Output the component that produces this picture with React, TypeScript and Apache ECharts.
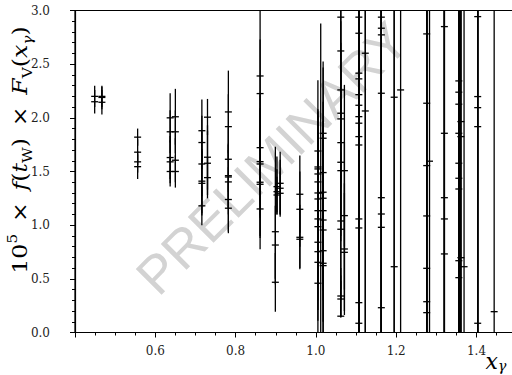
import { useEffect, useRef } from 'react';
import * as echarts from 'echarts';

const X_MIN = 0.4;
const X_MAX = 1.6;
const Y_MIN = 0;
const Y_MAX = 3;

// [x, y, barLow, barHigh]
const pointsBelowOne: number[][] = [
  [0.449, 2.2, 2.1, 2.3],
  [0.449, 2.15, 2.04, 2.26],
  [0.467, 2.2, 2.1, 2.3],
  [0.467, 2.19, 2.08, 2.29],
  [0.467, 2.145, 2.03, 2.26],
  [0.556, 1.82, 1.74, 1.9],
  [0.556, 1.68, 1.56, 1.8],
  [0.556, 1.59, 1.49, 1.69],
  [0.556, 1.545, 1.43, 1.66],
  [0.637, 2.0, 1.77, 2.23],
  [0.637, 1.87, 1.67, 2.07],
  [0.637, 1.63, 1.43, 1.83],
  [0.637, 1.59, 1.39, 1.79],
  [0.637, 1.5, 1.36, 1.64],
  [0.65, 2.01, 1.75, 2.27],
  [0.65, 1.87, 1.67, 2.07],
  [0.65, 1.605, 1.4, 1.81],
  [0.65, 1.5, 1.35, 1.65],
  [0.716, 1.88, 1.59, 2.17],
  [0.716, 1.77, 1.52, 2.02],
  [0.716, 1.57, 1.27, 1.87],
  [0.716, 1.41, 1.11, 1.71],
  [0.716, 1.39, 1.09, 1.69],
  [0.716, 1.18, 1.0, 1.36],
  [0.73, 2.006, 1.84, 2.176],
  [0.73, 1.633, 1.33, 1.93],
  [0.73, 1.577, 1.28, 1.88],
  [0.73, 1.443, 1.25, 1.635],
  [0.782, 2.055, 1.67, 2.44],
  [0.782, 1.918, 1.62, 2.22],
  [0.782, 1.614, 1.31, 1.91],
  [0.782, 1.461, 1.16, 1.76],
  [0.782, 1.449, 1.15, 1.75],
  [0.782, 1.403, 1.1, 1.7],
  [0.782, 1.239, 0.94, 1.54],
  [0.782, 1.158, 0.925, 1.39],
  [0.861, 2.39, 1.69, 3.09],
  [0.861, 2.226, 1.73, 2.73],
  [0.861, 1.722, 1.22, 2.22],
  [0.861, 1.592, 1.09, 2.09],
  [0.861, 1.57, 1.07, 2.07],
  [0.861, 1.4, 0.9, 1.9],
  [0.861, 1.381, 0.88, 1.88],
  [0.861, 1.151, 0.775, 1.53],
  [0.899, 0.939, 0.5, 1.73],
  [0.899, 0.815, 0.45, 1.18],
  [0.899, 0.468, 0.194, 0.74],
  [0.903, 1.359, 1.1, 1.64],
  [0.903, 1.312, 1.1, 1.52],
  [0.903, 1.281, 1.12, 1.45],
  [0.911, 1.39, 1.1, 1.685],
  [0.911, 1.344, 1.079, 1.61],
  [0.911, 1.297, 1.1, 1.5],
  [0.96, 1.288, 0.93, 1.648],
  [0.96, 1.148, 0.8, 1.5],
  [0.96, 0.887, 0.589, 1.19],
  [0.96, 0.869, 0.6, 1.14],
];

// [x, y, barLow, barHigh]
const pointsNearOne: number[][] = [
  [1.005, 1.691, 1.03, 2.35],
  [1.005, 1.542, 1.0, 2.08],
  [1.005, 1.524, 0.98, 2.06],
  [1.005, 1.477, 0.94, 2.02],
  [1.005, 1.403, 0.86, 1.94],
  [1.005, 1.3, 0.76, 1.84],
  [1.005, 1.244, 0.7, 1.78],
  [1.005, 1.135, 0.6, 1.67],
  [1.005, 1.058, 0.52, 1.6],
  [1.005, 0.986, 0.45, 1.52],
  [1.005, 0.841, 0.3, 1.38],
  [1.005, 0.753, 0.21, 1.29],
  [1.005, 0.654, 0.11, 1.19],
  [1.005, 0.459, -0.08, 1.0],
  [1.012, 1.3, -0.28, 2.88],
  [1.018, 1.856, 1.19, 2.524],
  [1.018, 1.81, 1.15, 2.47],
  [1.018, 1.49, 0.83, 2.15],
  [1.018, 1.307, 0.65, 1.97],
  [1.018, 1.251, 0.59, 1.91],
  [1.018, 1.135, 0.48, 1.79],
  [1.018, 1.048, 0.39, 1.7],
  [1.018, 0.955, 0.3, 1.61],
  [1.018, 0.762, 0.1, 1.42],
  [1.018, 0.645, -0.02, 1.31],
  [1.018, 0.623, -0.04, 1.29],
  [1.062, 2.938, 2.3, 3.6],
  [1.062, 2.623, 2.0, 3.25],
  [1.062, 2.26, 1.6, 2.9],
  [1.062, 2.043, 1.4, 2.7],
  [1.062, 1.99, 1.35, 2.63],
  [1.062, 1.769, 1.1, 2.44],
  [1.062, 1.586, 0.9, 2.27],
  [1.062, 1.508, 0.85, 2.17],
  [1.062, 1.039, 0.4, 1.68],
  [1.062, 0.962, 0.3, 1.62],
  [1.062, 0.34, 0.15, 0.53],
  [1.062, 0.312, 0.142, 0.48],
  [1.062, 0.152, 0.14, 0.6],
  [1.071, 1.508, 0.8, 2.307],
  [1.071, 1.089, 0.4, 1.78],
  [1.071, 0.778, 0.163, 1.39],
  [1.071, 0.747, 0.2, 1.3],
];

// [x, y, symmetric error]
const pointsAboveOne: number[][] = [
  [1.107, 2.938, 3.2], [1.107, 2.788, 3.1], [1.107, 2.416, 3.0], [1.107, 2.363, 3.3],
  [1.107, 2.216, 3.1], [1.107, 2.117, 3.0], [1.107, 2.011, 3.4], [1.107, 1.95, 3.1],
  [1.107, 1.825, 3.2], [1.107, 1.747, 3.0], [1.107, 1.058, 3.1], [1.107, 0.974, 3.3],
  [1.107, 0.278, 3.0], [1.107, 0.086, 3.2],
  [1.123, 2.602, 3.1], [1.123, 2.064, 3.3],
  [1.163, 2.938, 3.0], [1.163, 2.835, 3.2], [1.163, 2.773, 3.1], [1.163, 2.229, 3.0],
  [1.163, 1.256, 3.2], [1.163, 1.104, 3.1], [1.163, 0.98, 3.0], [1.163, 0.231, 3.3],
  [1.195, 2.192, 3.2], [1.195, 0.613, 3.0],
  [1.211, 2.26, 3.1],
  [1.276, 2.782, 3.0], [1.276, 2.136, 3.2], [1.276, 1.555, 3.1], [1.276, 1.086, 3.0],
  [1.276, 0.598, 3.3], [1.276, 0.287, 3.1], [1.276, 0.185, 3.0],
  [1.283, 1.596, 3.4],
  [1.32, 2.85, 3.0], [1.32, 1.856, 3.2], [1.32, 1.256, 3.1], [1.32, 1.058, 3.0], [1.32, 0.732, 3.3],
  [1.356, 2.344, 3.1], [1.356, 2.239, 3.0], [1.356, 2.127, 3.2], [1.356, 1.856, 3.1],
  [1.356, 1.577, 3.0], [1.356, 1.437, 3.3], [1.356, 1.337, 3.1], [1.356, 0.669, 3.0],
  [1.356, 0.511, 3.2],
  [1.361, 1.965, 3.1], [1.361, 1.825, 3.0], [1.361, 0.697, 3.2],
  [1.369, 0.613, 3.1],
  [1.403, 2.943, 3.0], [1.403, 2.198, 3.2], [1.403, 2.095, 3.1], [1.403, 1.918, 3.0],
  [1.403, 0.086, 3.3],
  [1.444, 0.194, 3.1],
];

const WATERMARK = 'PRELIMINARY';

export default function App() {
  const ref = useRef<HTMLDivElement>(null);

  useEffect(() => {
    const chart = echarts.init(ref.current!, null, { renderer: 'svg' });
    const data = [
      ...pointsBelowOne,
      ...pointsNearOne,
      ...pointsAboveOne.map(([x, y, e]) => [x, y, y - e, y + e]),
    ];
    const serif = 'DejaVu Serif';
    chart.setOption({
      animation: false,
      grid: {
        left: 75,
        top: 10.5,
        width: 481.8,
        height: 322,
        show: true,
        borderColor: '#000',
        borderWidth: 1.2,
        backgroundColor: 'transparent',
      },
      xAxis: {
        type: 'value',
        min: X_MIN,
        max: X_MAX,
        interval: 0.2,
        axisLine: { lineStyle: { color: '#000', width: 1.2 } },
        axisTick: { length: 5, lineStyle: { color: '#000', width: 1 } },
        minorTick: { show: true, splitNumber: 4, length: 3, lineStyle: { color: '#000', width: 1 } },
        splitLine: { show: false },
        axisLabel: {
          showMinLabel: false,
          showMaxLabel: false,
          margin: 12,
          fontFamily: serif,
          fontSize: 12,
          color: '#222',
          formatter: (v: number) => v.toFixed(1),
        },
      },
      yAxis: {
        type: 'value',
        min: Y_MIN,
        max: Y_MAX,
        interval: 0.5,
        axisLine: { lineStyle: { color: '#000', width: 1.2 } },
        axisTick: { length: 5, lineStyle: { color: '#000', width: 1 } },
        minorTick: { show: true, splitNumber: 5, length: 3, lineStyle: { color: '#000', width: 1 } },
        splitLine: { show: false },
        axisLabel: {
          margin: 25,
          fontFamily: serif,
          fontSize: 12,
          color: '#222',
          formatter: (v: number) => v.toFixed(1),
        },
      },
      graphic: [
        {
          type: 'text',
          z: 0,
          x: 272,
          y: 158,
          rotation: Math.PI / 4,
          silent: true,
          style: {
            text: WATERMARK,
            fontFamily: 'Liberation Sans',
            fontSize: 53,
            fill: '#d3d3d3',
            align: 'center',
            verticalAlign: 'middle',
          },
        },
        {
          type: 'text',
          x: 20,
          y: 150,
          rotation: Math.PI / 2,
          scaleX: 1.18,
          silent: true,
          style: {
            text: '{n|10}{sup|5}{n|\u2002×\u2002}{i|f}{n|(}{i|t}{sub|W}{n|)}{n|\u2002×\u2002}{i|F}{sub|V}{n|(}{i|x}{subi|γ}{n|)}',
            align: 'center',
            verticalAlign: 'middle',
            fill: '#000',
            rich: {
              n: { fontFamily: serif, fontSize: 20, lineHeight: 28, verticalAlign: 'middle', fill: '#000' },
              i: { fontFamily: serif, fontSize: 20, fontStyle: 'italic', lineHeight: 28, verticalAlign: 'middle', fill: '#000' },
              sup: { fontFamily: serif, fontSize: 13, lineHeight: 13, verticalAlign: 'top', fill: '#000' },
              sub: { fontFamily: serif, fontSize: 13, lineHeight: 13, verticalAlign: 'bottom', fill: '#000' },
              subi: { fontFamily: serif, fontSize: 13, fontStyle: 'italic', lineHeight: 13, verticalAlign: 'bottom', fill: '#000' },
            },
          },
        },
        {
          type: 'text',
          x: 496,
          y: 361,
          silent: true,
          style: {
            text: '{i|x}{sub|γ}',
            align: 'center',
            verticalAlign: 'middle',
            rich: {
              i: { fontFamily: serif, fontSize: 22, fontStyle: 'italic', lineHeight: 24, verticalAlign: 'middle', fill: '#000' },
              sub: { fontFamily: serif, fontSize: 14, fontStyle: 'italic', lineHeight: 14, verticalAlign: 'bottom', fill: '#000' },
            },
          },
        },
      ],
      series: [
        {
          type: 'custom',
          z: 5,
          silent: true,
          data,
          encode: { x: 0, y: 1 },
          renderItem: (_params: any, api: any) => {
            const x = api.value(0);
            const y = api.value(1);
            const lo = Math.max(api.value(2), Y_MIN);
            const hi = Math.min(api.value(3), Y_MAX);
            const pTop = api.coord([x, hi]);
            const pBot = api.coord([x, lo]);
            const p = api.coord([x, y]);
            return {
              type: 'group',
              children: [
                {
                  type: 'line',
                  shape: { x1: pTop[0], y1: pTop[1], x2: pBot[0], y2: pBot[1] },
                  style: { stroke: '#000', lineWidth: 1.3 },
                },
                {
                  type: 'line',
                  shape: { x1: p[0] - 3.5, y1: p[1], x2: p[0] + 3.5, y2: p[1] },
                  style: { stroke: '#000', lineWidth: 1.3 },
                },
              ],
            };
          },
        },
      ],
    });
    return () => chart.dispose();
  }, []);

  return (
    <div style={{ position: 'absolute', left: 0, top: 0, width: 512, height: 375, overflow: 'hidden' }}>
      <div ref={ref} style={{ width: 560, height: 375 }} />
    </div>
  );
}
